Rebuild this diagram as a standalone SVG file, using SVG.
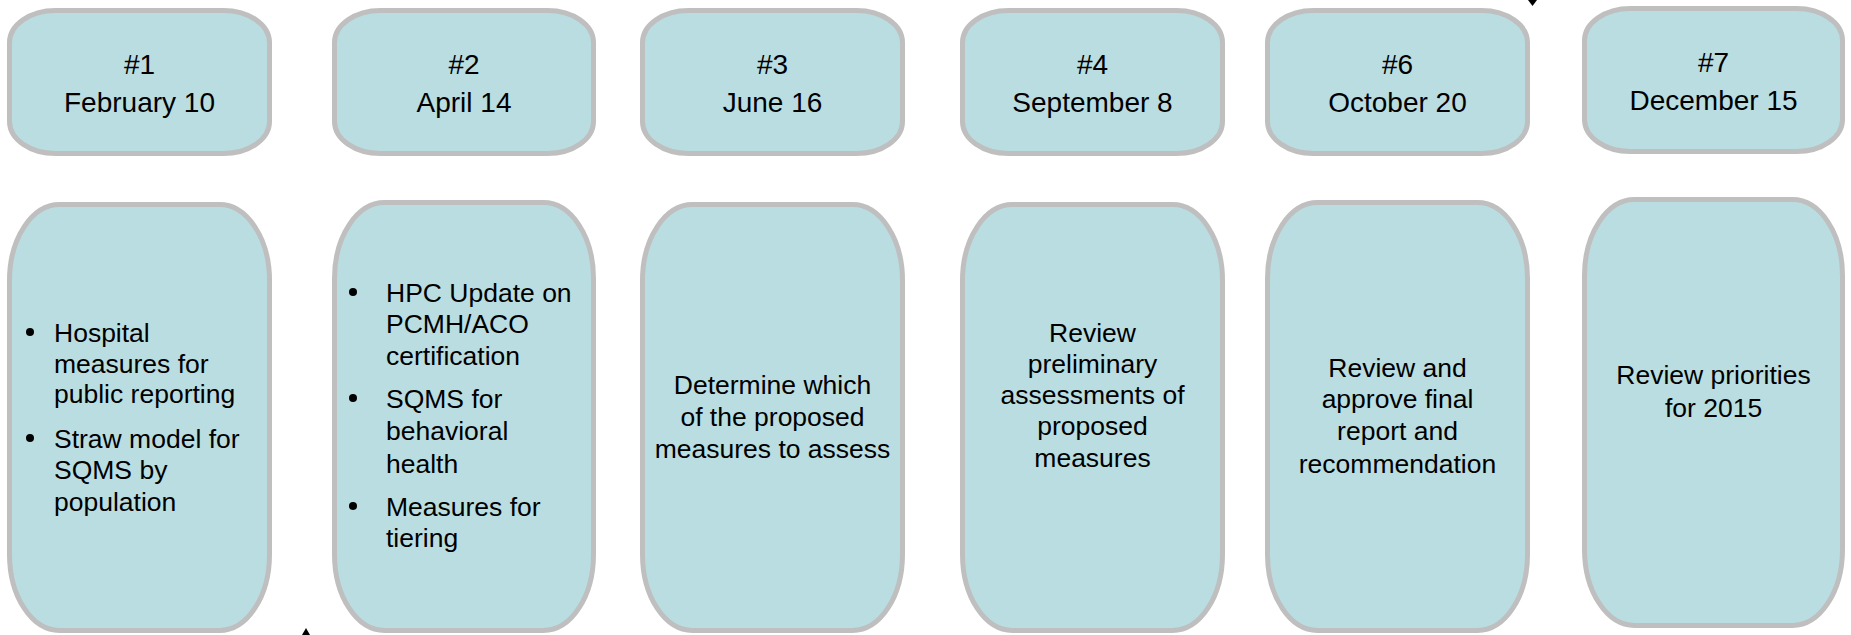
<svg xmlns="http://www.w3.org/2000/svg" width="1851" height="635" viewBox="0 0 1851 635">
<style>
.box{fill:#badde1;stroke:#bfbfbf;stroke-width:5}
.t{font-family:"Liberation Sans",Arial,sans-serif;fill:#000}
.h{font-size:28px;text-anchor:middle}
.b{font-size:26.5px}
.c{font-size:26.5px;text-anchor:middle}
.arr{fill:#000}
</style>
<rect width="1851" height="635" fill="#fff"/>
<g id="top1"><rect class="box" x="9.5" y="10.5" width="260" height="143" rx="46" ry="32"/><text class="t h" x="139.5" y="74">#1</text><text class="t h" x="139.5" y="112">February 10</text></g>
<g id="top2"><rect class="box" x="334.5" y="10.5" width="259" height="143" rx="46" ry="32"/><text class="t h" x="464" y="74">#2</text><text class="t h" x="464" y="112">April 14</text></g>
<g id="top3"><rect class="box" x="642.5" y="10.5" width="260" height="143" rx="46" ry="32"/><text class="t h" x="772.5" y="74">#3</text><text class="t h" x="772.5" y="112">June 16</text></g>
<g id="top4"><rect class="box" x="962.5" y="10.5" width="260" height="143" rx="46" ry="32"/><text class="t h" x="1092.5" y="74">#4</text><text class="t h" x="1092.5" y="112">September 8</text></g>
<g id="top6"><rect class="box" x="1267.5" y="10.5" width="260" height="143" rx="46" ry="32"/><text class="t h" x="1397.5" y="74">#6</text><text class="t h" x="1397.5" y="112">October 20</text></g>
<g id="top7"><rect class="box" x="1584.5" y="8.5" width="258" height="143" rx="46" ry="32"/><text class="t h" x="1713.5" y="72">#7</text><text class="t h" x="1713.5" y="110">December 15</text></g>

<g id="bot1"><rect class="box" x="9.5" y="204.5" width="260" height="426" rx="50" ry="76"/>
<circle cx="30" cy="332" r="4"/><circle cx="30" cy="438" r="4"/>
<text class="t b" x="54" y="342">Hospital</text><text class="t b" x="54" y="373">measures for</text><text class="t b" x="54" y="403">public reporting</text>
<text class="t b" x="54" y="448">Straw model for</text><text class="t b" x="54" y="479">SQMS by</text><text class="t b" x="54" y="511">population</text></g>
<g id="bot2"><rect class="box" x="334.5" y="202.5" width="259" height="428" rx="50" ry="76"/>
<circle cx="353" cy="292" r="4"/><circle cx="353" cy="398" r="4"/><circle cx="353" cy="506" r="4"/>
<text class="t b" x="386" y="302">HPC Update on</text><text class="t b" x="386" y="333">PCMH/ACO</text><text class="t b" x="386" y="365">certification</text>
<text class="t b" x="386" y="408">SQMS for</text><text class="t b" x="386" y="440">behavioral</text><text class="t b" x="386" y="473">health</text>
<text class="t b" x="386" y="516">Measures for</text><text class="t b" x="386" y="547">tiering</text></g>
<g id="bot3"><rect class="box" x="642.5" y="204.5" width="260" height="426" rx="50" ry="76"/>
<text class="t c" x="772.5" y="394">Determine which</text><text class="t c" x="772.5" y="426">of the proposed</text><text class="t c" x="772.5" y="458">measures to assess</text></g>
<g id="bot4"><rect class="box" x="962.5" y="204.5" width="260" height="426" rx="50" ry="76"/>
<text class="t c" x="1092.5" y="342">Review</text><text class="t c" x="1092.5" y="373">preliminary</text><text class="t c" x="1092.5" y="404">assessments of</text><text class="t c" x="1092.5" y="435">proposed</text><text class="t c" x="1092.5" y="467">measures</text></g>
<g id="bot6"><rect class="box" x="1267.5" y="202.5" width="260" height="428" rx="50" ry="76"/>
<text class="t c" x="1397.5" y="377">Review and</text><text class="t c" x="1397.5" y="408">approve final</text><text class="t c" x="1397.5" y="440">report and</text><text class="t c" x="1397.5" y="473">recommendation</text></g>
<g id="bot7"><rect class="box" x="1584.5" y="199.5" width="258" height="426" rx="50" ry="76"/>
<text class="t c" x="1713.5" y="384">Review priorities</text><text class="t c" x="1713.5" y="417">for 2015</text></g>

<g id="connectors">
<polygon class="arr" points="1528,0 1537,0 1532.5,6"/>
<polygon class="arr" points="302,635 310,635 306,628"/>
</g>
</svg>
